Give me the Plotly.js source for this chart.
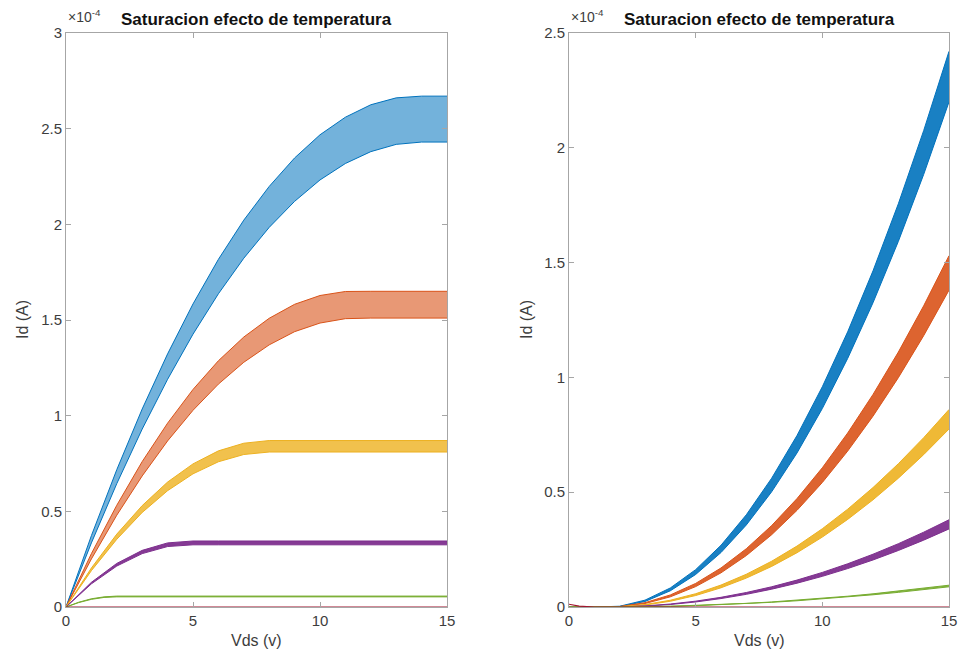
<!DOCTYPE html>
<html>
<head>
<meta charset="utf-8">
<script src="https://cdn.plot.ly/plotly-3.0.1.min.js"></script>
<style>html,body{margin:0;padding:0;background:#fff;}#chart{width:961px;height:654px;}</style>
</head>
<body>
<div id="chart"></div>
<script>
// ---- Data (Id in units of 1e-4 A) ----
var vds = [0,1,2,3,4,5,6,7,8,9,10,11,12,13,14,15];

// Left panel: Id vs Vds (output curves), top/bottom edge of each temperature band
var leftBlueTop    = [0,0.373,0.718,1.035,1.323,1.584,1.817,2.022,2.198,2.347,2.468,2.560,2.625,2.661,2.670,2.670];
var leftBlueBot    = [0,0.335,0.645,0.930,1.190,1.426,1.637,1.823,1.984,2.120,2.232,2.318,2.380,2.418,2.430,2.430];
var leftOrangeTop  = [0,0.279,0.532,0.760,0.961,1.137,1.287,1.411,1.509,1.582,1.628,1.649,1.650,1.650,1.650,1.650];
var leftOrangeBot  = [0,0.251,0.480,0.685,0.868,1.028,1.165,1.279,1.370,1.439,1.484,1.507,1.510,1.510,1.510,1.510];
var leftYellowTop  = [0,0.204,0.381,0.530,0.653,0.748,0.816,0.856,0.870,0.870,0.870,0.870,0.870,0.870,0.870,0.870];
var leftYellowBot  = [0,0.190,0.354,0.494,0.608,0.696,0.759,0.797,0.810,0.810,0.810,0.810,0.810,0.810,0.810,0.810];
var leftPurpleTop  = [0,0.129,0.228,0.296,0.335,0.345,0.345,0.345,0.345,0.345,0.345,0.345,0.345,0.345,0.345,0.345];
var leftPurpleBot  = [0,0.121,0.214,0.279,0.316,0.325,0.325,0.325,0.325,0.325,0.325,0.325,0.325,0.325,0.325,0.325];
var greenV         = [0,0.5,1,1.5,2,15];
var leftGreenTop   = [0,0.025,0.043,0.053,0.057,0.057];
var leftGreenBot   = [0,0.023,0.040,0.050,0.053,0.053];
var zeroV          = [0,15];
var zeroI          = [0,0];

// Right panel
var rightBlueTop   = [0,0,0.0033,0.0299,0.0830,0.1627,0.2689,0.4017,0.5610,0.7469,0.9594,1.1984,1.4640,1.7561,2.0748,2.42];
var rightBlueBot   = [0,0,0.0020,0.0240,0.0706,0.1416,0.2372,0.3573,0.5018,0.6709,0.8645,1.0826,1.3252,1.5923,1.8839,2.20];
var rightOrangeTop = [0,0,0.0021,0.0189,0.0525,0.1028,0.1700,0.2539,0.3547,0.4722,0.6065,0.7577,0.9256,1.1102,1.3117,1.53];
var rightOrangeBot = [0,0,0.0012,0.0151,0.0443,0.0888,0.1488,0.2241,0.3148,0.4209,0.5423,0.6791,0.8313,0.9988,1.1817,1.38];
var rightYellowTop = [0,0,0.0012,0.0106,0.0295,0.0578,0.0956,0.1427,0.1994,0.2654,0.3409,0.4259,0.5202,0.6241,0.7373,0.86];
var rightYellowBot = [0,0,0.0007,0.0085,0.0249,0.0499,0.0836,0.1259,0.1768,0.2364,0.3045,0.3814,0.4668,0.5609,0.6636,0.775];
var rightPurpleTop = [0,0,0.0005,0.0047,0.0130,0.0255,0.0422,0.0631,0.0881,0.1173,0.1506,0.1882,0.2299,0.2757,0.3258,0.38];
var rightPurpleBot = [0,0,0.0003,0.0037,0.0109,0.0219,0.0367,0.0552,0.0776,0.1037,0.1336,0.1673,0.2048,0.2461,0.2911,0.34];
var rightGreenTop  = [0,0,0.0001,0.0012,0.0033,0.0064,0.0106,0.0158,0.0220,0.0293,0.0377,0.0470,0.0575,0.0689,0.0814,0.095];
var rightGreenBot  = [0,0,0.0001,0.0011,0.0030,0.0058,0.0098,0.0146,0.0204,0.0271,0.0349,0.0436,0.0532,0.0638,0.0754,0.088];
var rightDarkV     = [0,0.4,1,15];
var rightDarkI     = [0.012,0.004,0,0];

var xTicks = [0,5,10,15];
var leftYTicks  = [0,0.5,1,1.5,2,2.5,3];
var leftYLabels = ['0','0.5','1','1.5','2','2.5','3'];
var rightYTicks  = [0,0.5,1,1.5,2,2.5];
var rightYLabels = ['0','0.5','1','1.5','2','2.5'];
var SCALE = 1e-4;

var colBlue   = [0,114,189];
var colOrange = [217,83,25];
var colYellow = [237,177,32];
var colPurple = [126,47,142];
var colGreen  = [119,172,48];
var colDark   = [162,20,47];

function rgb(c){return 'rgb('+c.join(',')+')';}
function rgba(c,a){return 'rgba('+c.join(',')+','+a+')';}
function sc(arr){return arr.map(function(v){return v*SCALE;});}

var traces = [];
function band(x, bot, top, col, alpha, xa, ya){
  traces.push({x:x, y:sc(bot), xaxis:xa, yaxis:ya, mode:'lines', line:{color:rgb(col), width:1}, hoverinfo:'skip', showlegend:false});
  traces.push({x:x, y:sc(top), xaxis:xa, yaxis:ya, mode:'lines', line:{color:rgb(col), width:1}, fill:'tonexty', fillcolor:rgba(col,alpha), hoverinfo:'skip', showlegend:false});
}
band(vds, leftBlueBot, leftBlueTop, colBlue, 0.55, 'x', 'y');
band(vds, leftOrangeBot, leftOrangeTop, colOrange, 0.6, 'x', 'y');
band(vds, leftYellowBot, leftYellowTop, colYellow, 0.8, 'x', 'y');
band(vds, leftPurpleBot, leftPurpleTop, colPurple, 0.95, 'x', 'y');
band(greenV, leftGreenBot, leftGreenTop, colGreen, 0.9, 'x', 'y');
traces.push({x:zeroV, y:zeroI, xaxis:'x', yaxis:'y', mode:'lines', line:{color:rgb(colDark), width:1.2}, hoverinfo:'skip', showlegend:false});

band(vds, rightBlueBot, rightBlueTop, colBlue, 0.9, 'x2', 'y2');
band(vds, rightOrangeBot, rightOrangeTop, colOrange, 0.9, 'x2', 'y2');
band(vds, rightYellowBot, rightYellowTop, colYellow, 0.9, 'x2', 'y2');
band(vds, rightPurpleBot, rightPurpleTop, colPurple, 0.95, 'x2', 'y2');
band(vds, rightGreenBot, rightGreenTop, colGreen, 0.9, 'x2', 'y2');
traces.push({x:rightDarkV, y:sc(rightDarkI), xaxis:'x2', yaxis:'y2', mode:'lines', line:{color:rgb(colDark), width:1.2}, hoverinfo:'skip', showlegend:false});

var W = 961, H = 654;
function px(x){return x/W;}
function py(y){return 1 - y/H;}

var axisCommon = {
  showline:true, linecolor:'#a6a6a6', linewidth:1, mirror:'ticks',
  ticks:'inside', ticklen:5, tickcolor:'#a6a6a6', tickwidth:1,
  showgrid:false, zeroline:false,
  tickfont:{family:'Liberation Sans, Arial, sans-serif', size:15, color:'#3d3d3d'}
};
function ax(extra){var o={};for(var k in axisCommon)o[k]=axisCommon[k];for(var k2 in extra)o[k2]=extra[k2];return o;}

var fontTitle = {family:'Liberation Sans, Arial, sans-serif', size:17, color:'#111111'};
var fontLabel = {family:'Liberation Sans, Arial, sans-serif', size:16, color:'#3d3d3d'};
var fontExp   = {family:'Liberation Sans, Arial, sans-serif', size:14, color:'#3d3d3d'};

var layout = {
  width:W, height:H, margin:{l:0,r:0,t:0,b:0},
  paper_bgcolor:'#ffffff', plot_bgcolor:'#ffffff', showlegend:false,
  xaxis: ax({domain:[px(66),px(447)], range:[0,15], tickvals:xTicks, anchor:'y'}),
  yaxis: ax({domain:[py(607),py(33)], range:[0,3*SCALE], tickvals:sc(leftYTicks), ticktext:leftYLabels, anchor:'x'}),
  xaxis2: ax({domain:[px(569),px(949)], range:[0,15], tickvals:xTicks, anchor:'y2'}),
  yaxis2: ax({domain:[py(607),py(33)], range:[0,2.5*SCALE], tickvals:sc(rightYTicks), ticktext:rightYLabels, anchor:'x2'}),
  annotations:[
    {text:'<b>Saturacion efecto de temperatura</b>', xref:'paper', yref:'paper', x:px(256), y:py(19), xanchor:'center', yanchor:'middle', showarrow:false, font:fontTitle},
    {text:'<b>Saturacion efecto de temperatura</b>', xref:'paper', yref:'paper', x:px(759), y:py(19), xanchor:'center', yanchor:'middle', showarrow:false, font:fontTitle},
    {text:'×10<sup>-4</sup>', xref:'paper', yref:'paper', x:px(66), y:py(16), xanchor:'left', yanchor:'middle', showarrow:false, font:fontExp},
    {text:'×10<sup>-4</sup>', xref:'paper', yref:'paper', x:px(569), y:py(16), xanchor:'left', yanchor:'middle', showarrow:false, font:fontExp},
    {text:'Vds (v)', xref:'paper', yref:'paper', x:px(256), y:py(640), xanchor:'center', yanchor:'middle', showarrow:false, font:fontLabel},
    {text:'Vds (v)', xref:'paper', yref:'paper', x:px(759), y:py(640), xanchor:'center', yanchor:'middle', showarrow:false, font:fontLabel},
    {text:'Id (A)', xref:'paper', yref:'paper', x:px(22), y:py(320), xanchor:'center', yanchor:'middle', textangle:-90, showarrow:false, font:fontLabel},
    {text:'Id (A)', xref:'paper', yref:'paper', x:px(526), y:py(320), xanchor:'center', yanchor:'middle', textangle:-90, showarrow:false, font:fontLabel}
  ]
};

Plotly.newPlot('chart', traces, layout, {staticPlot:true, displayModeBar:false});
</script>
</body>
</html>
